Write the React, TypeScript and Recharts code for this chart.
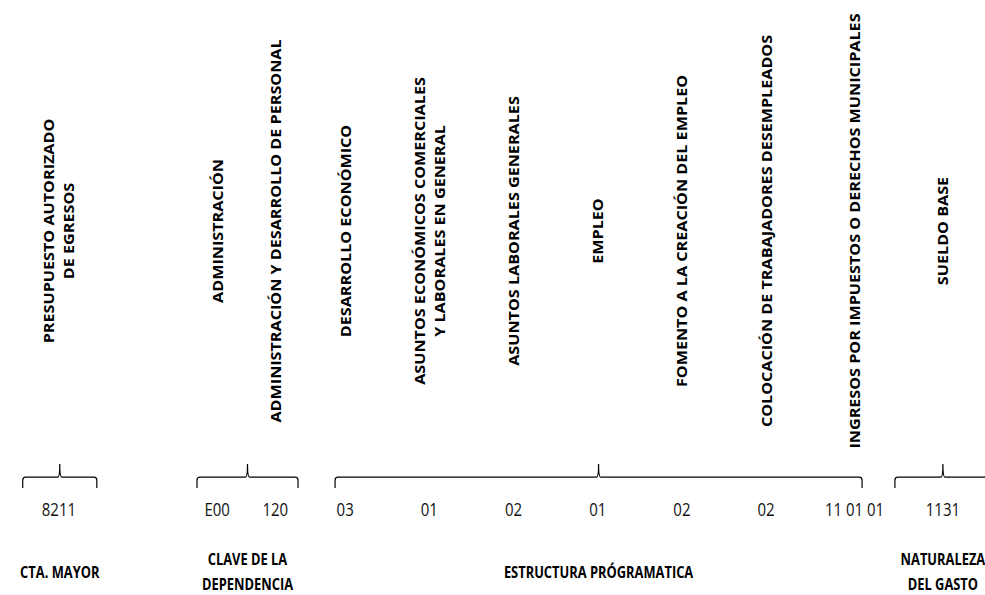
import React from 'react';
import { ComposedChart, XAxis, YAxis, Scatter, ReferenceArea } from 'recharts';

// column headings (rotated), codes under the braces, and the group captions
const columnLabels: string[][] = [
  ['PRESUPUESTO AUTORIZADO', 'DE EGRESOS'],
  ['ADMINISTRACIÓN'],
  ['ADMINISTRACIÓN Y DESARROLLO DE PERSONAL'],
  ['DESARROLLO ECONÓMICO'],
  ['ASUNTOS ECONÓMICOS COMERCIALES', 'Y LABORALES EN GENERAL'],
  ['ASUNTOS LABORALES GENERALES'],
  ['EMPLEO'],
  ['FOMENTO A LA CREACIÓN DEL EMPLEO'],
  ['COLOCACIÓN DE TRABAJADORES DESEMPLEADOS'],
  ['INGRESOS POR IMPUESTOS O DERECHOS MUNICIPALES'],
  ['SUELDO BASE'],
];
const columnCodes = ['8211', 'E00', '120', '03', '01', '02', '01', '02', '02', '11 01 01', '1131'];
const groupNames: string[][] = [
  ['CTA. MAYOR'],
  ['CLAVE DE LA', 'DEPENDENCIA'],
  ['ESTRUCTURA PRÓGRAMATICA'],
  ['NATURALEZA', 'DEL GASTO'],
];

// layout (column slot units on the x axis, pixel rows on the y axis)
const columnPos = [-0.4, 1.48, 2.17, 3, 4, 5, 6, 7, 8, 9.05, 10.1];
const groupSpan = [
  [-0.83, 0.05],
  [1.24, 2.44],
  [2.88, 9.14],
  [9.53, 10.67],
];
const LABEL_ROW = 231;
const CODE_ROW = 509;
const GROUP_ROW = 571;
const BRACE_TOP = 464;
const BRACE_BOTTOM = 488;

const W = 985;
const H = 595;
const FONT = '"Open Sans", sans-serif';
const STRETCH = 1.2;

const labelData = columnLabels.map((lines, i) => ({ pos: columnPos[i], row: LABEL_ROW, lines }));
const codeData = columnCodes.map((code, i) => ({ pos: columnPos[i], row: CODE_ROW, code }));
const groupData = groupNames.map((lines, i) => ({
  pos: (groupSpan[i][0] + groupSpan[i][1]) / 2,
  row: GROUP_ROW,
  lines,
}));

const RotatedLabel = (props: any) => {
  const { cx, cy, payload } = props;
  const lines: string[] = payload.lines;
  return (
    <g>
      {lines.map((t, i) => (
        <text
          key={i}
          transform={`translate(${cx + (i - (lines.length - 1) / 2) * 20},${cy}) scale(1,1.155) rotate(-90)`}
          textAnchor="middle"
          dominantBaseline="central"
          fontFamily={FONT}
          fontWeight={700}
          fontSize={14}
          fill="#000"
        >
          {t}
        </text>
      ))}
    </g>
  );
};

const CodeLabel = (props: any) => {
  const { cx, cy, payload } = props;
  return (
    <text
      transform={`translate(${cx},${cy}) scale(1,${STRETCH})`}
      textAnchor="middle"
      dominantBaseline="central"
      fontFamily={FONT}
      fontSize={15}
      fill="#111"
    >
      {payload.code}
    </text>
  );
};

const GroupLabel = (props: any) => {
  const { cx, cy, payload } = props;
  const lines: string[] = payload.lines;
  return (
    <g>
      {lines.map((t, i) => (
        <text
          key={i}
          transform={`translate(${cx},${cy + (i - (lines.length - 1) / 2) * 25}) scale(0.92,${STRETCH})`}
          textAnchor="middle"
          dominantBaseline="central"
          fontFamily={FONT}
          fontWeight={700}
          fontSize={14}
          fill="#000"
        >
          {t}
        </text>
      ))}
    </g>
  );
};

const Brace = (props: any) => {
  const { x, y, width, height } = props;
  const mid = x + width / 2;
  const line = y + height * 0.55;
  const bottom = y + height;
  const d = [
    `M${x},${bottom}`,
    `L${x},${line + 3}`,
    `Q${x},${line} ${x + 3},${line}`,
    `L${mid - 2},${line}`,
    `Q${mid},${line} ${mid},${y}`,
    `Q${mid},${line} ${mid + 2},${line}`,
    `L${x + width - 3},${line}`,
    `Q${x + width},${line} ${x + width},${line + 3}`,
    `L${x + width},${bottom}`,
  ].join(' ');
  return <path d={d} fill="none" stroke="#000" strokeWidth={1.2} />;
};

const App: React.FC = () => {
  return (
    <div style={{ position: 'absolute', left: 0, top: 0, width: W, height: H, background: '#fff' }}>
      <ComposedChart width={W} height={H} margin={{ top: 0, right: 0, bottom: 0, left: 0 }}>
        <XAxis type="number" dataKey="pos" domain={[-1.1, 10.6]} hide allowDataOverflow />
        <YAxis type="number" dataKey="row" domain={[0, H]} reversed hide allowDataOverflow />
        {groupSpan.map(([a, b], i) => (
          <ReferenceArea
            key={i}
            x1={a}
            x2={b}
            y1={BRACE_TOP}
            y2={BRACE_BOTTOM}
            ifOverflow="visible"
            shape={<Brace />}
          />
        ))}
        <Scatter data={labelData} shape={<RotatedLabel />} isAnimationActive={false} />
        <Scatter data={codeData} shape={<CodeLabel />} isAnimationActive={false} />
        <Scatter data={groupData} shape={<GroupLabel />} isAnimationActive={false} />
      </ComposedChart>
    </div>
  );
};

export default App;
